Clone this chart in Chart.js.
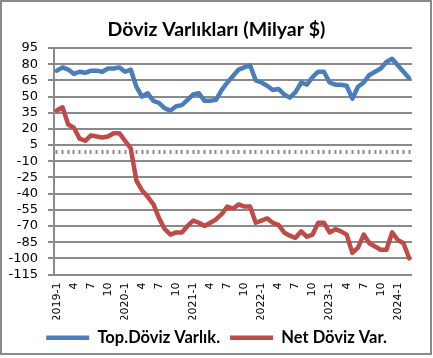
<!DOCTYPE html>
<html><head><meta charset="utf-8">
<script src="https://cdn.jsdelivr.net/npm/chart.js@4/dist/chart.umd.min.js"></script>
<style>
html,body{margin:0;padding:0;background:#fff;}
#wrap{position:relative;width:433px;height:358px;}
#frame{position:absolute;left:0;top:0;width:432px;height:355px;border:2px solid #8a8a8a;box-sizing:border-box;pointer-events:none;}
canvas{position:absolute;left:0;top:0;}
</style></head><body>
<div id="wrap"><canvas id="c" width="433" height="358"></canvas><div id="frame"></div></div>
<script>
const chartTitle = 'Döviz Varlıkları (Milyar $)';
const seriesNames = ['Top.Döviz Varlık.', 'Net Döviz Var.'];
const categories = [
 '2019-1','2019-2','2019-3','2019-4','2019-5','2019-6','2019-7','2019-8','2019-9','2019-10','2019-11','2019-12',
 '2020-1','2020-2','2020-3','2020-4','2020-5','2020-6','2020-7','2020-8','2020-9','2020-10','2020-11','2020-12',
 '2021-1','2021-2','2021-3','2021-4','2021-5','2021-6','2021-7','2021-8','2021-9','2021-10','2021-11','2021-12',
 '2022-1','2022-2','2022-3','2022-4','2022-5','2022-6','2022-7','2022-8','2022-9','2022-10','2022-11','2022-12',
 '2023-1','2023-2','2023-3','2023-4','2023-5','2023-6','2023-7','2023-8','2023-9','2023-10','2023-11','2023-12',
 '2024-1','2024-2','2024-3'];
const topDovizVarlik = [
 74,77,75,71,73,72,74,74,73,76,76,77,
 73,75,59,50,53,46,44,39,37,41,42,47,
 52,53,46,46,47,56,63,69,75,77,79,65,
 63,60,56,57,52,49,54,63,61,68,73,73,
 63,61,61,60,48,59,63,70,73,76,82,85,
 79,73,67];
const netDovizVar = [
 37,40,24,21,11,9,14,13,12,13,16,16,
 9,2,-28,-37,-43,-50,-63,-73,-78,-76,-76,-70,
 -65,-67,-70,-67,-64,-59,-52,-54,-50,-52,-52,-67,
 -65,-63,-67,-69,-76,-79,-81,-75,-80,-78,-67,-67,
 -76,-73,-75,-78,-95,-90,-78,-86,-89,-92,-92,-76,
 -83,-86,-100];
const shownMonths = ['1','4','7','10'];
const yMin = -115, yMax = 95, yStep = 15;

const gridGray = '#8a8a8a';
new Chart(document.getElementById('c'), {
  type: 'line',
  data: {
    labels: categories,
    datasets: [
      { label: seriesNames[0], data: topDovizVarlik, borderColor: '#4a7ebb', backgroundColor: '#4a7ebb',
        borderWidth: 4.5, pointRadius: 0, tension: 0, borderJoinStyle: 'round', borderCapStyle: 'round', xAxisID: 'x', yAxisID: 'y' },
      { label: seriesNames[1], data: netDovizVar, borderColor: '#be4b48', backgroundColor: '#be4b48',
        borderWidth: 4.5, pointRadius: 0, tension: 0, borderJoinStyle: 'round', borderCapStyle: 'round', xAxisID: 'x', yAxisID: 'y' }
    ]
  },
  options: {
    responsive: false, animation: false, devicePixelRatio: 1,
    layout: { padding: { left: 0, right: 0, top: 0, bottom: 2 } },
    plugins: {
      title: { display: true, text: chartTitle, color: '#000',
        font: { family: 'Lato', weight: 'bold', size: 19.5 }, padding: { top: 18, bottom: 6.6 } },
      legend: { position: 'bottom',
        labels: { usePointStyle: true, pointStyle: 'line', pointStyleWidth: 43, color: '#000', padding: 10,
          font: { family: 'Lato', weight: 'bold', size: 16.5 } } },
      tooltip: { enabled: false }
    },
    scales: {
      x: { type: 'category', position: 'bottom', offset: true,
        grid: { display: false, drawTicks: false }, border: { display: false },
        ticks: { autoSkip: false, minRotation: 90, maxRotation: 90, padding: 8, color: '#000',
          font: { family: 'DejaVu Sans', size: 11 },
          callback: function(v, i) { const p = categories[i].split('-'); if (p[1] === '1') return categories[i]; return shownMonths.includes(p[1]) ? p[1] : ''; } },
        afterFit: function(s) { s.height = 45; } },
      x0: { type: 'category', position: { y: 0 }, offset: true,
        grid: { display: true, drawOnChartArea: false, drawTicks: true, tickLength: 4, tickWidth: 2, tickColor: gridGray },
        border: { display: false },
        ticks: { display: false, autoSkip: false } },
      y: { type: 'linear', position: 'left', min: yMin, max: yMax,
        grid: { color: gridGray, lineWidth: 2, drawTicks: true, tickLength: 6 },
        border: { display: true, color: gridGray, width: 2 },
        ticks: { stepSize: yStep, autoSkip: false, padding: 10, color: '#000', font: { family: 'DejaVu Sans', size: 13 } },
        afterFit: function(s) { s.width = 54; } },
      yRight: { type: 'linear', position: 'right', min: yMin, max: yMax,
        grid: { display: false, drawTicks: false }, border: { display: false },
        ticks: { display: false },
        afterFit: function(s) { s.width = 21; } }
    }
  }
});
</script>
</body></html>
